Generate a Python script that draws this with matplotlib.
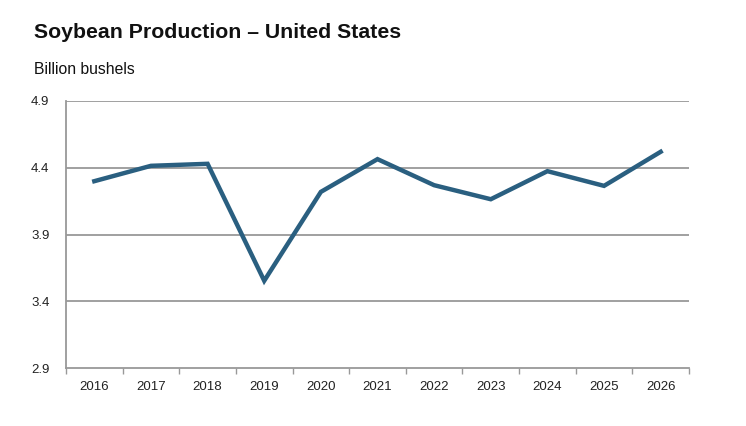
import matplotlib
matplotlib.use("Agg")
import matplotlib.pyplot as plt
import numpy as np

years = ["2016", "2017", "2018", "2019", "2020", "2021", "2022", "2023", "2024", "2025", "2026"]
production = [4.30, 4.415, 4.43, 3.555, 4.22, 4.465, 4.27, 4.165, 4.375, 4.265, 4.52]
yticks = [2.9, 3.4, 3.9, 4.4, 4.9]

plt.rcParams['font.family'] = ['Liberation Sans', 'DejaVu Sans']

fig = plt.figure(figsize=(7.46, 4.26), dpi=100)
ax = fig.add_axes([66/746, 1-368.3/426, (689-66)/746, (368.3-101)/426])

x = np.arange(len(years))
ax.plot(x, production, color="#2a5f80", lw=3.2, solid_joinstyle='miter', zorder=3)

ax.set_xlim(-0.5, len(years)-0.5)
ax.set_ylim(2.9, 4.9)
ax.set_yticks(yticks)
ax.set_yticklabels([f"{v:.1f}" for v in yticks], fontsize=9.5, color="#222222")
ax.set_xticks(x)
ax.set_xticklabels(years, fontsize=9.5, color="#222222")
ax.set_xticks(np.arange(-0.5, len(years)), minor=True)
ax.tick_params(axis='x', which='major', length=0, pad=9)
ax.tick_params(axis='x', which='minor', length=4, color="#999999", width=1)
ax.tick_params(axis='y', length=0, pad=12)

for v in yticks[1:]:
    ax.axhline(v, color="#999999", lw=1.3, zorder=1)

for s in ['top', 'right']:
    ax.spines[s].set_visible(False)
for s in ['left', 'bottom']:
    ax.spines[s].set_color("#999999")
    ax.spines[s].set_linewidth(1.3)

fig.text(34/746, 1-33/426, "Soybean Production – United States", fontsize=15.3,
         fontweight='bold', va='center', ha='left', color="#111111")
fig.text(34/746, 1-69/426, "Billion bushels", fontsize=11.3, va='center', ha='left', color="#111111")

fig.savefig("out.png", dpi=100)
